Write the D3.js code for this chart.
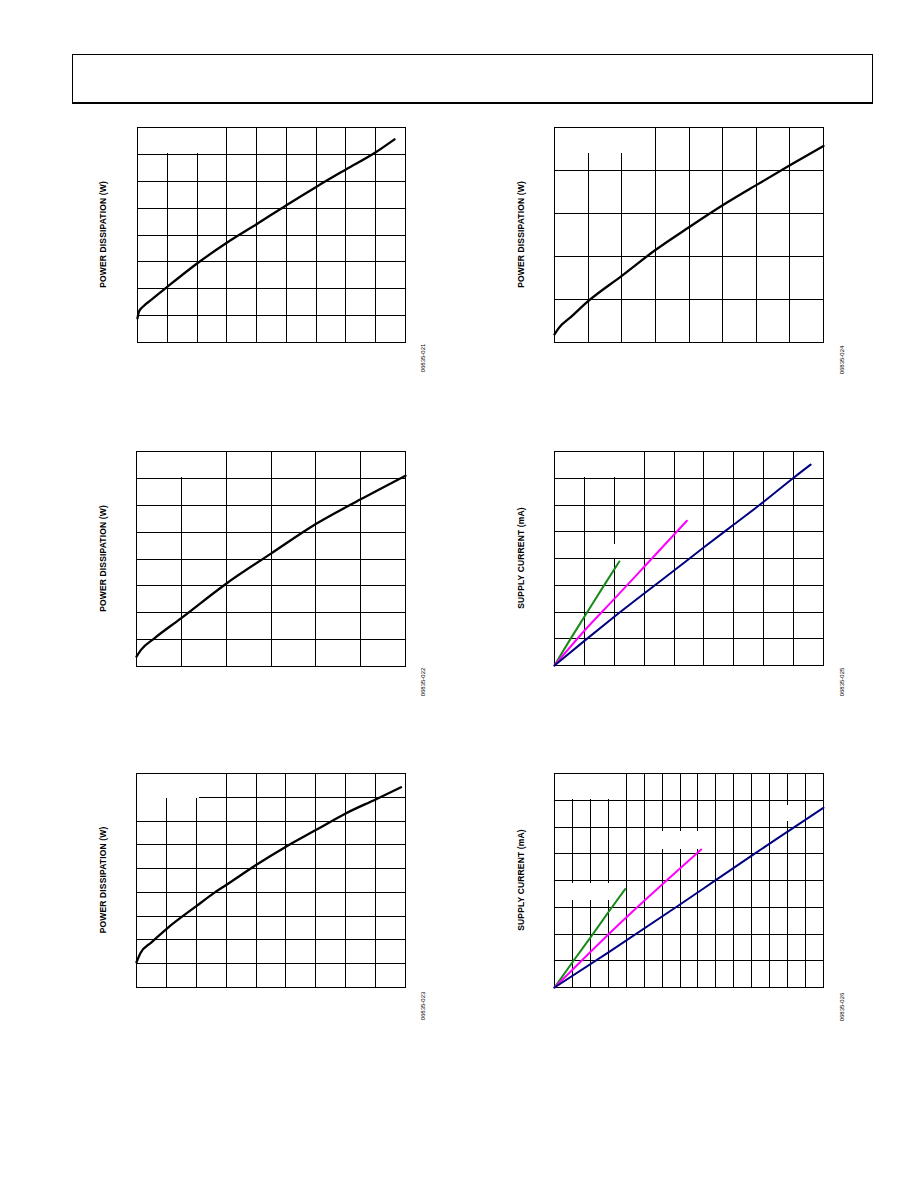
<!DOCTYPE html>
<html>
<head>
<meta charset="utf-8">
<script src="https://cdn.jsdelivr.net/npm/d3@7"></script>
<style>
  html, body { margin: 0; padding: 0; background: #fff; }
  svg { display: block; }
  .grid line { stroke: #000; stroke-width: 1; shape-rendering: crispEdges; }
  .grid path.domain { display: none; }
</style>
</head>
<body>
<svg id="page" width="918" height="1188"></svg>
<script>
// ---------- data (grid units) ----------
const p1X = [0, 0.05, 0.2, 0.5, 1, 2, 3, 4, 5, 6, 7, 8, 8.63];
const p1Y = [0.9, 1.15, 1.35, 1.62, 2.07, 2.94, 3.71, 4.40, 5.11, 5.79, 6.44, 7.08, 7.56];

const p2X = [0, 0.12, 0.5, 1, 2, 3, 4, 5, 6, 7, 8];
const p2Y = [0.19, 0.33, 0.6, 0.96, 1.55, 2.15, 2.68, 3.19, 3.66, 4.12, 4.57];

const p3X = [0, 0.1, 0.4, 1, 2, 3, 4, 5, 6];
const p3Y = [0.37, 0.62, 1.05, 1.80, 3.08, 4.2, 5.3, 6.22, 7.10];

const p4GreenX = [0, 0.5, 1.0, 1.7, 2.17];
const p4GreenY = [0, 0.93, 1.82, 3.07, 3.89];
const p4MagentaX = [0, 1.0, 2.01, 3.01, 4.43];
const p4MagentaY = [0, 1.3, 2.5, 3.7, 5.41];
const p4NavyX = [0, 1.0, 2.0, 4.0, 5.0, 6.0, 7.0, 8.0, 8.57];
const p4NavyY = [0, 0.92, 1.82, 3.55, 4.42, 5.27, 6.12, 7.02, 7.51];

const p5X = [0, 0.13, 0.5, 1, 2, 2.6, 3, 4, 5, 6, 7, 8, 8.85];
const p5Y = [1.06, 1.44, 1.9, 2.46, 3.42, 3.98, 4.31, 5.15, 5.92, 6.62, 7.32, 7.91, 8.42];

const p6GreenX = [0, 1.06, 2.08, 3.03, 3.94];
const p6GreenY = [0, 1.0, 1.94, 2.84, 3.68];
const p6MagentaX = [0, 1.06, 3.03, 5.02, 7.04, 8.18];
const p6MagentaY = [0, 0.70, 2.0, 3.25, 4.48, 5.16];
const p6NavyX = [0, 3.03, 7.04, 9.05, 11.04, 13.0, 15.0];
const p6NavyY = [0, 1.32, 3.12, 4.04, 4.95, 5.83, 6.72];

const yLabels = ["POWER DISSIPATION (W)", "POWER DISSIPATION (W)", "POWER DISSIPATION (W)",
                 "SUPPLY CURRENT (mA)", "POWER DISSIPATION (W)", "SUPPLY CURRENT (mA)"];
const figCodes = ["06835-021", "06835-024", "06835-022", "06835-025", "06835-023", "06835-026"];

const BLACK = "#000000", GREEN = "#178a17", MAGENTA = "#ff00ff", NAVY = "#000080";

// ---------- layout ----------
const panels = [
  { left: 137, top: 127, right: 405, bottom: 342, cols: 9, rows: 8, labelX: 103, codeX: 423, codeY: 358,
    series: [[p1X, p1Y, BLACK]], masks: [[0, 7, 3, 8]] },
  { left: 554, top: 127, right: 823, bottom: 342, cols: 8, rows: 5, labelX: 521, codeX: 842, codeY: 360,
    series: [[p2X, p2Y, BLACK]], masks: [[0, 4.37, 3, 5]] },
  { left: 136, top: 451, right: 405, bottom: 666, cols: 6, rows: 8, labelX: 103, codeX: 423, codeY: 682,
    series: [[p3X, p3Y, BLACK]], masks: [[0, 7, 2, 8]] },
  { left: 554, top: 451, right: 823, bottom: 665, cols: 9, rows: 8, labelX: 521, codeX: 842, codeY: 682,
    series: [[p4GreenX, p4GreenY, GREEN], [p4MagentaX, p4MagentaY, MAGENTA], [p4NavyX, p4NavyY, NAVY]],
    masks: [[0, 7, 3, 8], [1.05, 3.95, 2.2, 4.6]] },
  { left: 136, top: 773, right: 405, bottom: 987, cols: 9, rows: 9, labelX: 103, codeX: 423, codeY: 1006,
    series: [[p5X, p5Y, BLACK]], masks: [[0, 7.89, 2.14, 9]] },
  { left: 554, top: 773, right: 823, bottom: 987, cols: 15, rows: 8, labelX: 521, codeX: 842, codeY: 1007,
    series: [[p6GreenX, p6GreenY, GREEN], [p6MagentaX, p6MagentaY, MAGENTA], [p6NavyX, p6NavyY, NAVY]],
    masks: [[0, 7, 4, 8], [5.08, 5.14, 8.3, 5.92], [12.1, 6.18, 13.7, 6.89], [0.15, 3.2, 3.1, 3.98]] }
];

const svg = d3.select("#page");
svg.append("rect").attr("width", 918).attr("height", 1188).attr("fill", "#fff");

// header box
svg.append("rect").attr("x", 72.5).attr("y", 54.5).attr("width", 800).attr("height", 49)
  .attr("fill", "none").attr("stroke", "#000").attr("stroke-width", 1);
svg.append("line").attr("x1", 72).attr("x2", 873).attr("y1", 103).attr("y2", 103)
  .attr("stroke", "#000").attr("stroke-width", 2);

panels.forEach((p, i) => {
  const w = p.right - p.left, h = p.bottom - p.top;
  const g = svg.append("g").attr("transform", `translate(${p.left},${p.top})`);
  const x = d3.scaleLinear().domain([0, p.cols]).range([0, w]);
  const y = d3.scaleLinear().domain([0, p.rows]).range([h, 0]);

  g.append("g").attr("class", "grid").attr("transform", `translate(0,${h})`)
    .call(d3.axisBottom(x).tickValues(d3.range(1, p.cols)).tickSizeInner(-h).tickSizeOuter(0).tickFormat(""));
  g.append("g").attr("class", "grid")
    .call(d3.axisLeft(y).tickValues(d3.range(1, p.rows)).tickSizeInner(-w).tickSizeOuter(0).tickFormat(""));

  // blank areas left where labels were erased
  p.masks.forEach(m => {
    const x0 = m[0] === 0 ? -1 : Math.round(x(m[0])) + 2;
    const x1 = m[2] === p.cols ? w + 1 : Math.round(x(m[2])) - 1;
    const y0 = m[3] === p.rows ? -1 : Math.round(y(m[3])) + 2;
    const y1 = Math.round(y(m[1])) - 1;
    g.append("rect").attr("x", x0).attr("y", y0)
      .attr("width", x1 - x0).attr("height", y1 - y0)
      .attr("fill", "#fff").attr("shape-rendering", "crispEdges");
  });

  g.append("rect").attr("x", 0.5).attr("y", 0.5).attr("width", w).attr("height", h)
    .attr("fill", "none").attr("stroke", "#000").attr("stroke-width", 1).attr("shape-rendering", "crispEdges");

  const line = d3.line().x(d => x(d[0]) + 0.5).y(d => y(d[1]) + 0.5).curve(d3.curveMonotoneX);
  p.series.forEach(s => {
    const pts = s[0].map((v, k) => [v, s[1][k]]);
    g.append("path").datum(pts).attr("d", line)
      .attr("fill", "none").attr("stroke", s[2]).attr("stroke-width", s[2] === BLACK ? 2.3 : 2)
      .attr("stroke-linejoin", "round").attr("stroke-linecap", "round");
  });

  svg.append("text")
    .attr("transform", `translate(${p.labelX + 3},${(p.top + p.bottom) / 2}) rotate(-90)`)
    .attr("text-anchor", "middle")
    .attr("font-family", "Liberation Sans, Arial, sans-serif")
    .attr("font-size", 8.5).attr("font-weight", "bold").attr("letter-spacing", 0.15)
    .attr("fill", "#000")
    .text(yLabels[i]);

  svg.append("text")
    .attr("transform", `translate(${p.codeX + 2},${p.codeY}) rotate(-90)`)
    .attr("text-anchor", "middle")
    .attr("font-family", "Liberation Sans, Arial, sans-serif")
    .attr("font-size", 6).attr("fill", "#000")
    .text(figCodes[i]);
});
</script>
</body>
</html>
